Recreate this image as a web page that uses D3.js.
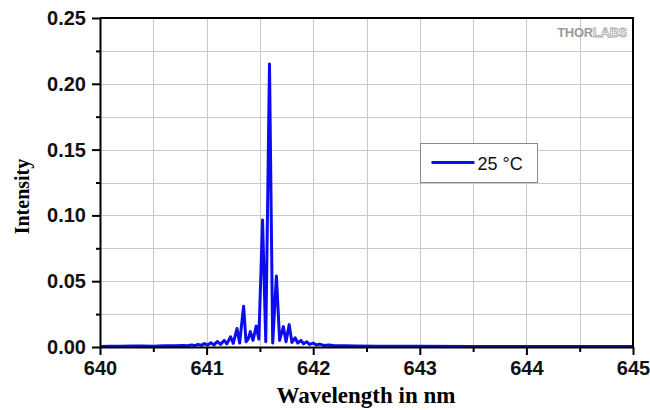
<!DOCTYPE html>
<html>
<head>
<meta charset="UTF-8">
<title>Spectrum 25 °C</title>
<script src="https://cdn.jsdelivr.net/npm/d3@7"></script>
<style>
  body { margin: 0; background: #fff; }
  svg { display: block; }
</style>
</head>
<body>
<svg id="chart" width="650" height="410"></svg>
<script>
// spectrum (nm, arbitrary intensity)
const wavelength = [
  640.00, 640.10, 640.20, 640.30, 640.40, 640.50, 640.60, 640.70, 640.78, 640.82,
  640.86, 640.89, 640.92, 640.95, 640.98, 641.01, 641.04, 641.07, 641.10, 641.13,
  641.165, 641.19, 641.225, 641.25, 641.285, 641.31, 641.347, 641.37, 641.39, 641.41,
  641.435, 641.466, 641.49, 641.525, 641.555, 641.59, 641.62, 641.655, 641.685, 641.72,
  641.745, 641.775, 641.80, 641.83, 641.855, 641.885, 641.91, 641.94, 641.965, 642.00,
  642.03, 642.06, 642.10, 642.15, 642.20, 642.30, 642.40, 642.60, 642.80, 643.00,
  643.50, 644.00, 644.50, 645.00
];
const intensity = [
  0.0004, 0.0006, 0.0005, 0.0007, 0.0008, 0.0006, 0.0009, 0.0010, 0.0012, 0.0009,
  0.0016, 0.0010, 0.0020, 0.0012, 0.0026, 0.0014, 0.0032, 0.0016, 0.0042, 0.0020,
  0.0050, 0.0024, 0.0078, 0.0028, 0.0140, 0.0030, 0.0310, 0.0040, 0.0060, 0.0117,
  0.0050, 0.0160, 0.0060, 0.0965, 0.0040, 0.2150, 0.0030, 0.0540, 0.0050, 0.0155,
  0.0040, 0.0170, 0.0035, 0.0070, 0.0030, 0.0050, 0.0025, 0.0040, 0.0020, 0.0030,
  0.0015, 0.0022, 0.0012, 0.0015, 0.0010, 0.0009, 0.0007, 0.0006, 0.0005, 0.0005,
  0.0004, 0.0004, 0.0003, 0.0003
];
const seriesName = "25 °C";

const xTicks = [640, 641, 642, 643, 644, 645];
const xMinor = [640.5, 641.5, 642.5, 643.5, 644.5];
const yTicks = [0, 0.05, 0.10, 0.15, 0.20, 0.25];
const yMinor = [0.025, 0.075, 0.125, 0.175, 0.225];

const width = 650, height = 410;
const margin = {top: 18, right: 17, bottom: 63, left: 100};

const svg = d3.select("#chart");

const x = d3.scaleLinear().domain([640, 645]).range([margin.left, width - margin.right]);
const y = d3.scaleLinear().domain([0, 0.25]).range([height - margin.bottom, margin.top]);

// grid
const grid = svg.append("g").attr("stroke", "#c8c8c8").attr("stroke-width", 1);
grid.selectAll(".gx")
  .data(xMinor.concat(xTicks.slice(1, -1)))
  .join("line")
  .attr("x1", d => Math.round(x(d)) + 0.5).attr("x2", d => Math.round(x(d)) + 0.5)
  .attr("y1", y(0.25)).attr("y2", y(0));
grid.selectAll(".gy")
  .data(yMinor.concat(yTicks.slice(1, -1)))
  .join("line")
  .attr("y1", d => Math.round(y(d)) + 0.5).attr("y2", d => Math.round(y(d)) + 0.5)
  .attr("x1", x(640)).attr("x2", x(645));

// watermark
const wm = svg.append("text")
  .attr("x", x(645) - 6).attr("y", y(0.25) + 19)
  .attr("text-anchor", "end")
  .style("font-family", "Arial, 'Liberation Sans', sans-serif")
  .style("font-weight", "bold")
  .style("font-size", "13px")
  .style("letter-spacing", "-0.3px");
wm.append("tspan").attr("fill", "#9a9a9a").text("THOR");
wm.append("tspan").attr("fill", "#fff").attr("stroke", "#a8a8a8").attr("stroke-width", 0.8).text("LABS");

// spectrum
const points = wavelength.map((w, i) => [w, intensity[i]]);
const line = d3.line().x(d => x(d[0])).y(d => y(d[1]));
svg.append("path")
  .datum(points)
  .attr("fill", "none")
  .attr("stroke", "#0c0cf0")
  .attr("stroke-width", 3)
  .attr("stroke-linejoin", "round")
  .attr("d", line);

// frame (top + right)
svg.append("path")
  .attr("fill", "none")
  .attr("stroke", "#000")
  .attr("stroke-width", 2)
  .attr("d", `M${x(640)},${y(0.25)}H${x(645)}V${y(0)}`);

const tickFont = g => g.selectAll("text")
  .style("font-family", "Arial, 'Liberation Sans', sans-serif")
  .style("font-weight", "bold")
  .style("font-size", "20px")
  .attr("fill", "#111");

// minor ticks
svg.append("g")
  .attr("transform", `translate(0,${y(0)})`)
  .call(d3.axisBottom(x).tickValues(xMinor).tickSize(5).tickFormat(""))
  .call(g => g.select(".domain").remove())
  .call(g => g.selectAll("line").attr("stroke-width", 2));
svg.append("g")
  .attr("transform", `translate(${x(640)},0)`)
  .call(d3.axisLeft(y).tickValues(yMinor).tickSize(4).tickFormat(""))
  .call(g => g.select(".domain").remove())
  .call(g => g.selectAll("line").attr("stroke-width", 2));

// major axes
svg.append("g")
  .attr("transform", `translate(0,${y(0)})`)
  .call(d3.axisBottom(x).tickValues(xTicks).tickSize(8).tickSizeOuter(0).tickPadding(6).tickFormat(d3.format("d")))
  .call(g => g.select(".domain").attr("stroke-width", 2))
  .call(g => g.selectAll("line").attr("stroke-width", 2))
  .call(tickFont);
svg.append("g")
  .attr("transform", `translate(${x(640)},0)`)
  .call(d3.axisLeft(y).tickValues(yTicks).tickSize(8).tickSizeOuter(0).tickPadding(6).tickFormat(d3.format(".2f")))
  .call(g => g.select(".domain").attr("stroke-width", 2))
  .call(g => g.selectAll("line").attr("stroke-width", 2))
  .call(tickFont);

// axis titles
svg.append("text")
  .attr("x", (x(640) + x(645)) / 2 - 0.5)
  .attr("y", 403)
  .attr("text-anchor", "middle")
  .style("font-family", "'Times New Roman', 'Liberation Serif', serif")
  .style("font-weight", "bold")
  .style("font-size", "23px")
  .text("Wavelength in nm");
svg.append("text")
  .attr("transform", `translate(29,${(y(0) + y(0.25)) / 2 + 14}) rotate(-90)`)
  .attr("text-anchor", "middle")
  .style("font-family", "'Times New Roman', 'Liberation Serif', serif")
  .style("font-weight", "bold")
  .style("font-size", "20px")
  .text("Intensity");

// legend
const legend = svg.append("g").attr("transform", "translate(420.5,143.5)");
legend.append("rect")
  .attr("width", 117).attr("height", 39)
  .attr("fill", "#fff").attr("stroke", "#8a8a8a").attr("stroke-width", 1);
legend.append("line")
  .attr("x1", 11).attr("x2", 54).attr("y1", 19).attr("y2", 19)
  .attr("stroke", "#0c0cf0").attr("stroke-width", 3);
legend.append("text")
  .attr("x", 57).attr("y", 26)
  .style("font-family", "Arial, 'Liberation Sans', sans-serif")
  .style("font-size", "18px")
  .attr("fill", "#111")
  .text(seriesName);
</script>
</body>
</html>
